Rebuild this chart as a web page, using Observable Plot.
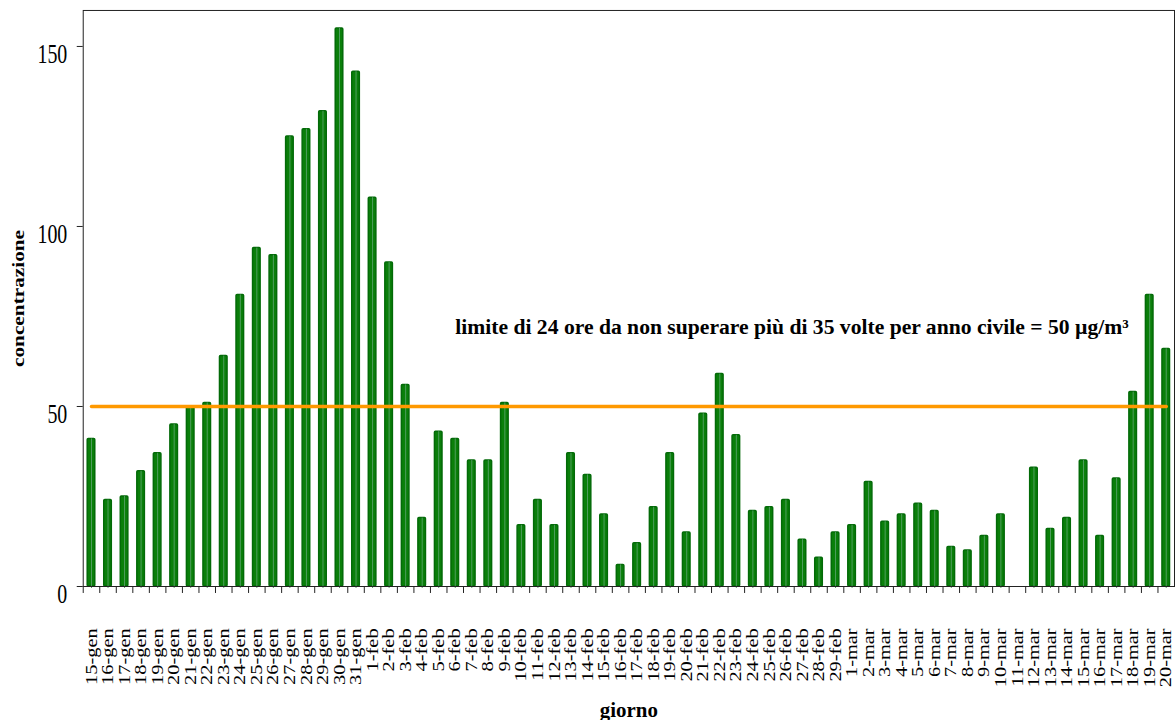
<!DOCTYPE html>
<html>
<head>
<meta charset="utf-8">
<script src="https://cdn.jsdelivr.net/npm/d3@7"></script>
<script src="https://cdn.jsdelivr.net/npm/@observablehq/plot@0.6"></script>
<style>
  html, body { margin: 0; padding: 0; background: #fff; overflow: hidden; }
  svg { display: block; }
</style>
</head>
<body>
<div id="chart"></div>
<script>
const days = [
  "15-gen","16-gen","17-gen","18-gen","19-gen","20-gen","21-gen","22-gen","23-gen","24-gen",
  "25-gen","26-gen","27-gen","28-gen","29-gen","30-gen","31-gen",
  "1-feb","2-feb","3-feb","4-feb","5-feb","6-feb","7-feb","8-feb","9-feb","10-feb",
  "11-feb","12-feb","13-feb","14-feb","15-feb","16-feb","17-feb","18-feb","19-feb","20-feb",
  "21-feb","22-feb","23-feb","24-feb","25-feb","26-feb","27-feb","28-feb","29-feb",
  "1-mar","2-mar","3-mar","4-mar","5-mar","6-mar","7-mar","8-mar","9-mar","10-mar",
  "11-mar","12-mar","13-mar","14-mar","15-mar","16-mar","17-mar","18-mar","19-mar","20-mar"
];
const values = [
  41,24,25,32,37,45,50,51,64,81,94,92,125,127,132,155,143,
  108,90,56,19,43,41,35,35,51,17,24,17,37,31,20,6,12,22,37,15,48,59,42,21,22,24,13,8,15,
  17,29,18,20,23,21,11,10,14,20,null,33,16,19,35,14,30,54,81,66
];
const yTicks = [0, 50, 100, 150];
const limitValue = 50;
const noteText = "limite di 24 ore da non superare più di 35 volte per anno civile = 50 µg/m³";
const noteDay = "6-feb";
const noteValue = 72;
const xTitle = "giorno";
const yTitle = "concentrazione";

const data = days.map((d, i) => ({day: d, value: values[i]}));
const bars = data.filter(d => d.value != null);
const limitLine = [{day: days[0], v: limitValue}, {day: days[days.length - 1], v: limitValue}];

const W = 1180, H = 722, mL = 83, mR = 2, mT = 10, mB = 134;
const step = (W - mL - mR) / days.length;
const serif = "'Liberation Serif', 'Times New Roman', serif";
const yTickFont = 27;

const chart = Plot.plot({
  width: W,
  height: H,
  marginLeft: mL,
  marginRight: mR,
  marginTop: mT,
  marginBottom: mB,
  style: {fontFamily: serif, color: "#000", background: "#fff", overflow: "visible"},
  x: {type: "band", domain: days, padding: 0},
  y: {domain: [0, 160]},
  marks: [
    Plot.barY(bars, {x: "day", y: "value", fill: "#0a7f0a", stroke: "#036a08", strokeWidth: 1.5,
      insetLeft: 4.5, insetRight: 4.5, rx: 1}),
    Plot.ruleX(bars, {x: "day", y1: 0, y2: "value", stroke: "#4f9e5e", strokeWidth: 1, insetTop: 2}),
    Plot.line(limitLine, {x: "day", y: "v", stroke: "#ff9900", strokeWidth: 3.5}),
    Plot.text([noteText], {x: () => noteDay, y: () => noteValue, textAnchor: "start",
      fontWeight: "bold", fontSize: 21.7, fill: "#000"}),
    Plot.axisY({ticks: yTicks, tickSize: 6, tickPadding: 10, fontSize: yTickFont, label: null, stroke: "#222"}),
    Plot.axisX({tickSize: 7, tickFormat: () => "", dx: -step / 2, label: null, stroke: "#222"}),
    Plot.axisX({tickSize: 0, tickPadding: 42, tickRotate: -90, fontSize: 16, label: null}),
    Plot.text([yTitle], {frameAnchor: "left", dx: -65, dy: 0, rotate: -90, fontWeight: "bold", fontSize: 17.5}),
    Plot.text([xTitle], {frameAnchor: "bottom", dy: 124, lineAnchor: "middle", fontWeight: "bold", fontSize: 21}),
    Plot.frame({stroke: "#222", strokeWidth: 1})
  ]
});

document.getElementById("chart").appendChild(chart);

// reproduce the condensed lettering: rescale glyphs along the text direction,
// keeping the original anchor (end / middle) in place
function stretch(nodes, k, anchor) {
  nodes.forEach(el => {
    const len = el.getComputedTextLength();
    const newLen = len * k;
    el.setAttribute("text-anchor", "start");
    el.setAttribute("dx", (anchor === "end" ? -newLen : -newLen / 2).toFixed(2));
    el.setAttribute("textLength", newLen.toFixed(2));
    el.setAttribute("lengthAdjust", "spacingAndGlyphs");
  });
}
const texts = Array.from(chart.querySelectorAll("text"));
stretch(texts.filter(t => days.includes(t.textContent)), 1.28, "end");
stretch(texts.filter(t => t.textContent === yTitle), 1.22, "middle");
const yLabels = texts.filter(t => yTicks.map(String).includes(t.textContent));
stretch(yLabels, 0.74, "end");
yLabels.forEach(t => t.setAttribute("dy", "8"));
</script>
</body>
</html>
